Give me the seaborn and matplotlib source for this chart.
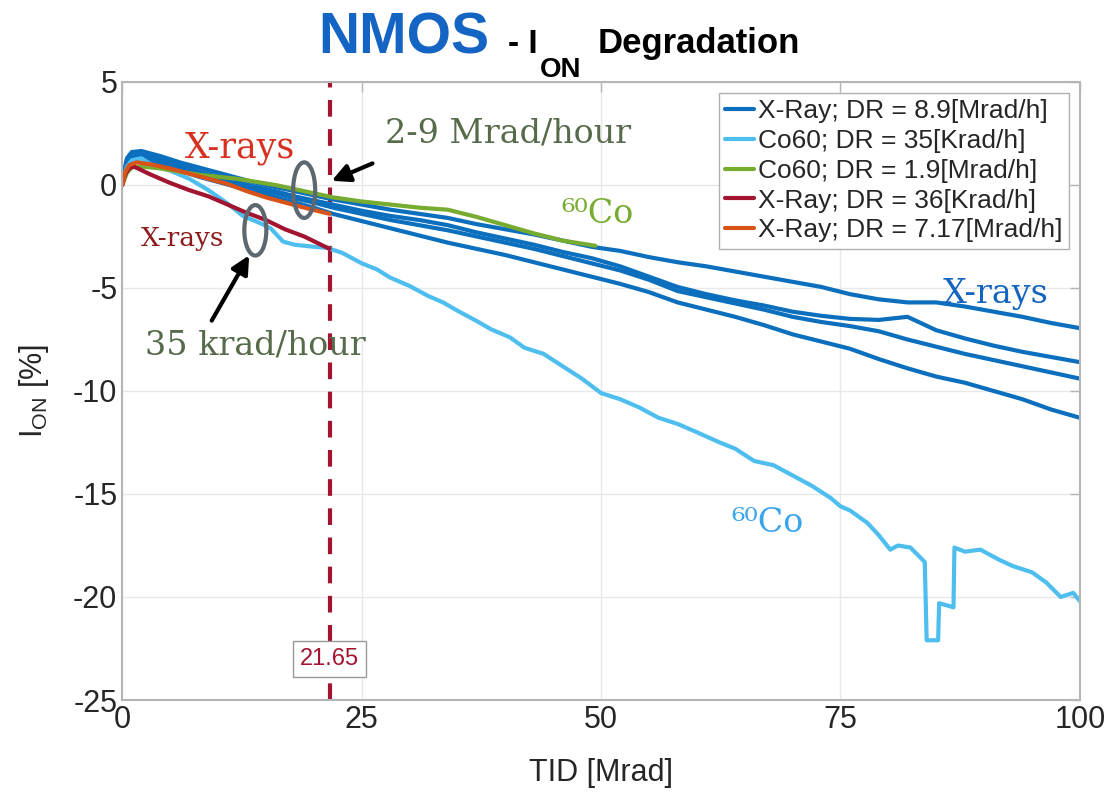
import matplotlib
matplotlib.use('Agg')
import matplotlib.pyplot as plt
from matplotlib.patches import Ellipse
import seaborn as sns

# X-ray 8.9 Mrad/h: four samples on a common TID grid
xr_tid = [0, 0.5, 1, 2, 4, 6, 8, 10, 12, 14, 16, 18, 20, 22, 25, 28, 31, 34, 37, 40,
          43, 46, 49, 52, 55, 58, 61, 64, 67, 70, 73, 76, 79, 82, 85, 88, 91, 94, 97, 100]
xr_s1 = [0.3, 1.3, 1.6, 1.65, 1.4, 1.1, 0.85, 0.6, 0.35, 0.1, -0.1, -0.3, -0.5, -0.7, -0.95,
         -1.2, -1.4, -1.6, -1.9, -2.15, -2.4, -2.7, -3.0, -3.2, -3.5, -3.75, -3.95, -4.2,
         -4.45, -4.7, -4.95, -5.3, -5.55, -5.7, -5.7, -5.9, -6.15, -6.4, -6.7, -6.95]
xr_s2 = [0.2, 1.1, 1.45, 1.5, 1.25, 0.95, 0.65, 0.4, 0.15, -0.1, -0.3, -0.55, -0.75, -0.95,
         -1.25, -1.5, -1.7, -1.95, -2.3, -2.6, -2.9, -3.25, -3.55, -3.95, -4.45, -4.95, -5.3,
         -5.6, -5.85, -6.15, -6.35, -6.5, -6.55, -6.4, -7.05, -7.45, -7.8, -8.1, -8.35, -8.6]
xr_s3 = [0.1, 1.0, 1.35, 1.4, 1.15, 0.85, 0.55, 0.3, 0.05, -0.2, -0.4, -0.65, -0.85, -1.1,
         -1.4, -1.7, -1.95, -2.2, -2.5, -2.8, -3.1, -3.45, -3.8, -4.15, -4.6, -5.15, -5.45,
         -5.75, -6.05, -6.4, -6.65, -6.85, -7.1, -7.5, -7.85, -8.2, -8.5, -8.8, -9.1, -9.4]
xr_s4 = [0.0, 0.9, 1.25, 1.3, 1.05, 0.7, 0.4, 0.15, -0.1, -0.35, -0.6, -0.85, -1.1, -1.4,
         -1.75, -2.1, -2.45, -2.8, -3.1, -3.4, -3.75, -4.1, -4.45, -4.8, -5.2, -5.7, -6.05,
         -6.4, -6.8, -7.25, -7.6, -7.95, -8.45, -8.9, -9.3, -9.6, -10.0, -10.4, -10.9, -11.3]

# Co60 35 krad/h
co_low_tid = [0, 0.5, 1, 2, 3, 5, 7, 9, 11, 12.6, 14.4, 15.5, 16.8, 18, 20, 21.4, 23, 25,
              26.6, 28, 30, 32, 33.5, 35, 37, 38.5, 40.5, 42, 44, 46, 48, 50, 52, 54, 56,
              58, 60, 62.4, 64, 66, 68, 70, 72, 74, 75, 76, 77.8, 79, 80.2, 81, 82.3, 83.8,
              84.0, 85.2, 85.3, 86.8, 86.9, 88, 89.6, 91.6, 93, 95, 96.5, 98, 99.3, 100]
co_low_ion = [0.2, 0.9, 1.2, 1.3, 1.0, 0.7, 0.3, -0.25, -0.9, -1.5, -1.85, -2.1, -2.75,
              -2.9, -3.0, -3.05, -3.3, -3.8, -4.1, -4.5, -4.9, -5.4, -5.7, -6.1, -6.6, -7.0,
              -7.4, -7.9, -8.2, -8.8, -9.4, -10.1, -10.4, -10.8, -11.3, -11.6, -12.0, -12.5,
              -12.8, -13.4, -13.6, -14.1, -14.6, -15.2, -15.6, -15.8, -16.4, -17.0, -17.7,
              -17.5, -17.6, -18.3, -22.1, -22.1, -20.3, -20.5, -17.6, -17.8, -17.7, -18.2,
              -18.5, -18.8, -19.3, -20.0, -19.8, -20.2]

# Co60 1.9 Mrad/h
co_high_tid = [0, 0.5, 1, 2, 4, 6, 8, 10, 12, 14, 16, 18, 20, 22, 25, 28, 31, 34, 37, 40,
               43, 46, 49.4]
co_high_ion = [0.0, 0.6, 0.85, 0.9, 0.8, 0.65, 0.5, 0.4, 0.3, 0.15, 0.0, -0.2, -0.4, -0.6,
               -0.8, -0.95, -1.1, -1.2, -1.55, -1.95, -2.35, -2.7, -2.95]

# X-ray 36 krad/h
xr_low_tid = [0, 0.3, 0.7, 1.2, 3, 5, 7, 9, 11, 13, 15, 17, 19, 21.65]
xr_low_ion = [0.0, 0.5, 0.8, 0.9, 0.5, 0.1, -0.25, -0.55, -0.95, -1.35, -1.7, -2.15, -2.5, -3.1]

# X-ray 7.17 Mrad/h
xr_mid_tid = [0, 0.3, 0.7, 1.5, 3, 5, 7, 9, 11, 13, 15, 17, 19, 21.65]
xr_mid_ion = [0.0, 0.6, 0.95, 1.1, 1.0, 0.8, 0.55, 0.3, 0.05, -0.3, -0.6, -0.85, -1.1, -1.4]

labels = ['X-Ray; DR = 8.9[Mrad/h]', 'Co60; DR = 35[Krad/h]', 'Co60; DR = 1.9[Mrad/h]',
          'X-Ray; DR = 36[Krad/h]', 'X-Ray; DR = 7.17[Mrad/h]']
tid_cut = 21.65

c_blue = '#0b6fbe'
c_cyan = '#4dbeee'
c_green = '#77ac30'
c_red = '#a2142f'
c_orange = '#d95319'

sns.set_theme(style='white')
plt.rcParams['font.family'] = ['Liberation Sans', 'DejaVu Sans']
plt.rcParams['mathtext.fontset'] = 'custom'
plt.rcParams['mathtext.rm'] = 'Liberation Sans'
plt.rcParams['axes.unicode_minus'] = False

fig = plt.figure(figsize=(11.11, 7.96), dpi=100)
ax = fig.add_axes([0.110, 0.1206, 0.862, 0.7764])

lw = 3.0
kw = dict(ax=ax, linewidth=lw, estimator=None, sort=False)
sns.lineplot(x=xr_tid, y=xr_s1, color=c_blue, label=labels[0], **kw)
for s in [xr_s2, xr_s3, xr_s4]:
    sns.lineplot(x=xr_tid, y=s, color=c_blue, legend=False, **kw)
sns.lineplot(x=co_low_tid, y=co_low_ion, color=c_cyan, label=labels[1], **kw)
sns.lineplot(x=co_high_tid, y=co_high_ion, color=c_green, label=labels[2], **kw)
sns.lineplot(x=xr_low_tid, y=xr_low_ion, color=c_red, label=labels[3], **kw)
sns.lineplot(x=xr_mid_tid, y=xr_mid_ion, color=c_orange, label=labels[4], **kw)

# cut-off marker
ax.axvline(tid_cut, color=c_red, linestyle=(0, (4, 3)), linewidth=3, zorder=1)
ax.text(tid_cut, -23.0, f'{tid_cut:.2f}', color=c_red, fontsize=17, ha='center',
        va='center', bbox=dict(facecolor='white', edgecolor='#999999', linewidth=1,
                               boxstyle='square,pad=0.3'))

ax.set_xlim(0, 100)
ax.set_ylim(-25, 5)
ax.set_xticks([0, 25, 50, 75, 100])
ax.set_yticks([5, 0, -5, -10, -15, -20, -25])
ax.grid(True, color='#e8e8e8', linewidth=1)
for sp in ax.spines.values():
    sp.set_color('#b5b5b5')
    sp.set_linewidth(1.5)
ax.tick_params(direction='in', length=7, width=1, color='#b5b5b5', labelsize=22,
               labelcolor='#262626', top=True, right=True)
ax.set_xlabel('TID [Mrad]', fontsize=22, color='#262626', labelpad=17)
ax.set_ylabel(r'I$_{\mathrm{ON}}$ [%]', fontsize=22, color='#262626', labelpad=16)

handles, labs = ax.get_legend_handles_labels()
ax.legend(handles, labs, loc='upper right', fontsize=19, frameon=True, fancybox=False,
          edgecolor='#b0b0b0', framealpha=1, handlelength=1.1, handletextpad=0.15,
          labelspacing=0.22, borderpad=0.25, borderaxespad=0.4)

# slide annotations
serif = 'DejaVu Serif'
ax.text(12.3, 1.8, 'X-rays', color='#d7301f', fontsize=25, family=serif, ha='center', va='center')
ax.text(6.3, -2.6, 'X-rays', color='#8e1b1b', fontsize=19, family=serif, ha='center', va='center')
ax.text(13.9, -7.8, '35 krad/hour', color='#566b4a', fontsize=24, family=serif, ha='center', va='center')
ax.text(40.3, 2.5, '2-9 Mrad/hour', color='#566b4a', fontsize=24, family=serif, ha='center', va='center')
ax.text(49.6, -1.4, '⁶⁰Co', color=c_green, fontsize=24, family=serif, ha='center', va='center')
ax.text(67.4, -16.4, '⁶⁰Co', color='#3aa4ec', fontsize=24, family=serif, ha='center', va='center')
ax.text(91.2, -5.3, 'X-rays', color='#1565c0', fontsize=24, family=serif, ha='center', va='center')

ax.add_patch(Ellipse((19.0, -0.25), 2.3, 2.7, fill=False, edgecolor='#5d6770', linewidth=3, zorder=5))
ax.add_patch(Ellipse((13.9, -2.2), 2.3, 2.45, fill=False, edgecolor='#5d6770', linewidth=3, zorder=5))
arrow = dict(arrowstyle='-|>,head_length=0.9,head_width=0.45', color='black', linewidth=3)
ax.annotate('', xy=(21.6, 0.15), xytext=(26.4, 1.1), arrowprops=arrow)
ax.annotate('', xy=(13.4, -3.3), xytext=(9.2, -6.7), arrowprops=arrow)

# title
fig.text(318 / 1111, 1 - 53 / 796, 'NMOS', color='#1464c3', fontsize=41, fontweight='bold',
         ha='left', va='baseline')
fig.text(508 / 1111, 1 - 53 / 796, '- I', color='black', fontsize=24, fontweight='bold',
         ha='left', va='baseline')
fig.text(540 / 1111, 1 - 77 / 796, 'ON', color='black', fontsize=20, fontweight='bold',
         ha='left', va='baseline')
fig.text(598 / 1111, 1 - 53 / 796, 'Degradation', color='black', fontsize=25, fontweight='bold',
         ha='left', va='baseline')

fig.savefig('out.png', dpi=100)
